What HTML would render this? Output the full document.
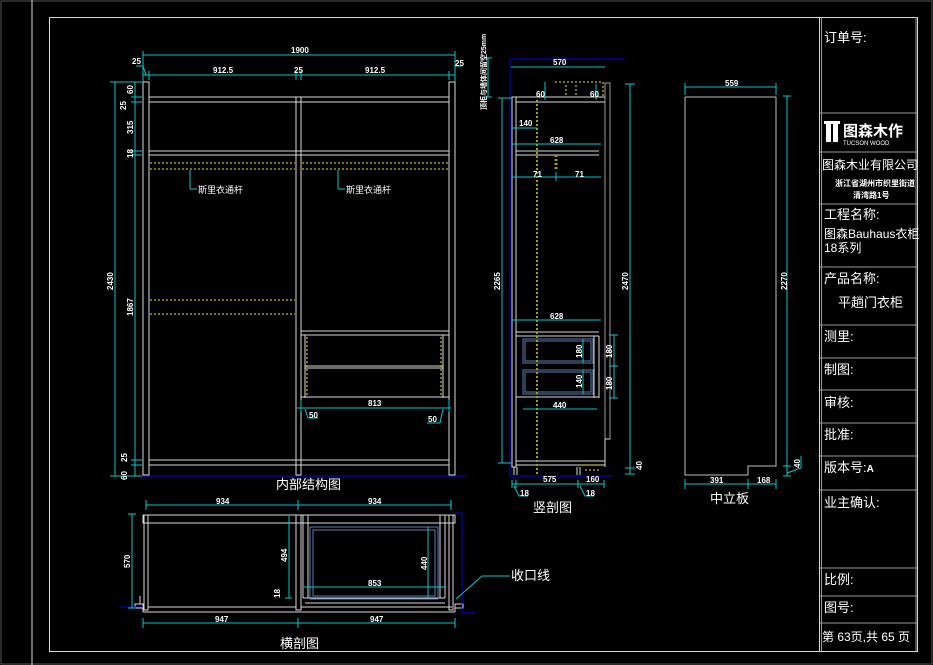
<!DOCTYPE html>
<html><head><meta charset="utf-8"><style>
html,body{margin:0;padding:0;background:#000;}
svg{display:block;}
.w{stroke:#d8d8d8;stroke-width:1;fill:none}
.g{stroke:#9a9a9a;stroke-width:1;fill:none}
.c{stroke:#00c8c8;stroke-width:1;fill:none}
.y{stroke:#a0a000;stroke-width:1.5;fill:none;stroke-dasharray:2,2}
.b{stroke:#0000ee;stroke-width:1;fill:none}
.s{stroke:#5a7db0;stroke-width:1;fill:none}
text{font-family:"Liberation Sans","Noto Sans CJK SC",sans-serif;fill:#fff}
.d{font-size:8px;font-weight:bold}
.t{font-size:13px}
</style></head><body>
<svg width="933" height="665" viewBox="0 0 933 665" xmlns="http://www.w3.org/2000/svg">
<!-- frames -->
<rect x="1" y="1" width="931" height="663" fill="none" stroke="#555" />
<line x1="32" y1="0" x2="32" y2="665" class="w"/>
<rect x="49.5" y="17.5" width="868" height="634" class="w"/>
<!-- title block -->
<line x1="819.5" y1="17" x2="819.5" y2="651" class="w"/>
<line x1="821.5" y1="17" x2="821.5" y2="651" class="g"/>
<line x1="916" y1="17" x2="916" y2="651" class="g"/>
<g class="g">
<line x1="820" y1="113" x2="917" y2="113"/><line x1="820" y1="152" x2="917" y2="152"/>
<line x1="820" y1="204" x2="917" y2="204"/><line x1="820" y1="267" x2="917" y2="267"/>
<line x1="820" y1="325" x2="917" y2="325"/><line x1="820" y1="358" x2="917" y2="358"/>
<line x1="820" y1="390" x2="917" y2="390"/><line x1="820" y1="423" x2="917" y2="423"/>
<line x1="820" y1="456" x2="917" y2="456"/><line x1="820" y1="490" x2="917" y2="490"/>
<line x1="820" y1="568" x2="917" y2="568"/><line x1="820" y1="596" x2="917" y2="596"/>
<line x1="820" y1="623" x2="917" y2="623"/>
</g>
<text x="824" y="42" class="t">订单号:</text>
<rect x="826" y="122" width="5" height="20" fill="#fff"/><rect x="833" y="122" width="5" height="20" fill="#fff"/><rect x="824" y="121" width="16" height="3" fill="#fff"/>
<text x="843" y="136" style="font-size:15px;font-weight:bold">图森木作</text>
<text x="843" y="145" style="font-size:6px">TUCSON WOOD</text>
<text x="822" y="169" style="font-size:12px">图森木业有限公司</text>
<text x="835" y="186" style="font-size:8px;font-weight:bold">浙江省湖州市织里街道</text>
<text x="853" y="198" style="font-size:8px;font-weight:bold">清湾路1号</text>
<text x="824" y="219" class="t">工程名称:</text>
<text x="824" y="238" style="font-size:12px">图森Bauhaus衣柜</text>
<text x="824" y="252" style="font-size:12px">18系列</text>
<text x="824" y="283" class="t">产品名称:</text>
<text x="838" y="307" class="t">平趟门衣柜</text>
<text x="824" y="341" class="t">测里:</text>
<text x="824" y="374" class="t">制图:</text>
<text x="824" y="407" class="t">审核:</text>
<text x="824" y="439" class="t">批准:</text>
<text x="824" y="472" class="t">版本号:<tspan style="font-size:10px;font-weight:bold">A</tspan></text>
<text x="824" y="507" class="t">业主确认:</text>
<text x="824" y="584" class="t">比例:</text>
<text x="824" y="612" class="t">图号:</text>
<text x="822" y="641" style="font-size:12px">第 63页,共 65 页</text>

<!-- FRONT ELEVATION -->
<g class="w">
<rect x="143" y="82" width="6" height="393"/>
<rect x="449" y="82" width="6" height="393"/>
<rect x="296" y="97" width="5" height="378"/>
<line x1="149" y1="97" x2="449" y2="97"/><line x1="149" y1="102" x2="449" y2="102"/>
<line x1="149" y1="151" x2="449" y2="151"/><line x1="149" y1="155" x2="449" y2="155"/>
<line x1="149" y1="460" x2="449" y2="460"/><line x1="149" y1="465" x2="449" y2="465"/>
<line x1="301" y1="331" x2="449" y2="331"/><line x1="301" y1="335" x2="449" y2="335"/>
<line x1="305" y1="335" x2="305" y2="398"/><line x1="443" y1="335" x2="443" y2="398"/>
<line x1="305" y1="366" x2="443" y2="366"/><line x1="305" y1="368" x2="443" y2="368"/>
<line x1="301" y1="397" x2="449" y2="397"/>
</g>
<g class="y">
<line x1="150" y1="163" x2="295" y2="163"/><line x1="150" y1="169" x2="295" y2="169"/>
<line x1="302" y1="163" x2="448" y2="163"/><line x1="302" y1="169" x2="448" y2="169"/>
<line x1="150" y1="300" x2="295" y2="300"/><line x1="150" y1="314" x2="295" y2="314"/>
<line x1="307" y1="337" x2="307" y2="396"/><line x1="441" y1="337" x2="441" y2="396"/>
</g>
<line x1="120" y1="476" x2="466" y2="476" class="b"/>
<g class="c">
<line x1="143" y1="55" x2="455" y2="55"/><line x1="143" y1="51" x2="143" y2="82"/><line x1="455" y1="51" x2="455" y2="82"/>
<line x1="143" y1="75" x2="455" y2="75"/><line x1="149" y1="71" x2="149" y2="80"/><line x1="296" y1="71" x2="296" y2="80"/><line x1="301" y1="71" x2="301" y2="80"/><line x1="449" y1="71" x2="449" y2="80"/>
<line x1="136" y1="66" x2="143" y2="66"/><line x1="143" y1="66" x2="146" y2="75"/>
<line x1="462" y1="66" x2="455" y2="66"/>
<line x1="115" y1="82" x2="115" y2="476"/><line x1="110" y1="82" x2="142" y2="82"/><line x1="110" y1="476" x2="142" y2="476"/>
<line x1="135" y1="82" x2="135" y2="476"/>
<line x1="131" y1="97" x2="142" y2="97"/><line x1="131" y1="102" x2="142" y2="102"/><line x1="131" y1="151" x2="142" y2="151"/><line x1="131" y1="155" x2="142" y2="155"/><line x1="131" y1="460" x2="142" y2="460"/><line x1="131" y1="465" x2="142" y2="465"/>
<line x1="190" y1="170" x2="190" y2="189"/><line x1="190" y1="189" x2="197" y2="189"/>
<line x1="338" y1="170" x2="338" y2="189"/><line x1="338" y1="189" x2="345" y2="189"/>
<line x1="297" y1="408" x2="451" y2="408"/><line x1="301" y1="400" x2="301" y2="412"/><line x1="449" y1="400" x2="449" y2="412"/>
<line x1="305" y1="409" x2="308" y2="418"/><line x1="308" y1="418" x2="318" y2="418"/>
<line x1="443" y1="409" x2="440" y2="423"/><line x1="440" y1="423" x2="427" y2="423"/>
</g>
<text x="291" y="53" class="d">1900</text>
<text x="213" y="73" class="d">912.5</text><text x="294" y="73" class="d">25</text><text x="365" y="73" class="d">912.5</text>
<text x="132" y="64" class="d">25</text><text x="455" y="66" class="d">25</text>
<text class="d" transform="translate(113,290) rotate(-90)">2430</text>
<text class="d" transform="translate(133,94) rotate(-90)">60</text>
<text class="d" transform="translate(126,110) rotate(-90)">25</text>
<text class="d" transform="translate(133,134) rotate(-90)">315</text>
<text class="d" transform="translate(133,158) rotate(-90)">18</text>
<text class="d" transform="translate(133,316) rotate(-90)">1867</text>
<text class="d" transform="translate(127,462) rotate(-90)">25</text>
<text class="d" transform="translate(127,480) rotate(-90)">60</text>
<text x="198" y="193" style="font-size:9px">斯里衣通杆</text>
<text x="346" y="193" style="font-size:9px">斯里衣通杆</text>
<text x="368" y="406" class="d">813</text><text x="309" y="418" class="d">50</text><text x="428" y="422" class="d">50</text>
<text x="276" y="489" class="t">内部结构图</text>

<!-- SIDE SECTION -->
<line x1="510" y1="59" x2="625" y2="59" class="b"/>
<line x1="510" y1="59" x2="510" y2="476" class="b"/>
<line x1="510" y1="476" x2="612" y2="476" class="b"/>
<g class="w">
<rect x="512" y="97" width="4" height="370"/>
<line x1="516" y1="97" x2="605" y2="97"/><line x1="516" y1="102" x2="605" y2="102"/>
<line x1="605" y1="97" x2="605" y2="467"/>
<rect x="605" y="83" width="5" height="356" class="g"/>
<line x1="605" y1="439" x2="610" y2="439" />
<line x1="516" y1="151" x2="599" y2="151"/><line x1="516" y1="155" x2="599" y2="155"/>
<line x1="516" y1="332" x2="599" y2="332"/><line x1="516" y1="336" x2="599" y2="336"/>
<line x1="594" y1="336" x2="594" y2="398"/><line x1="599" y1="336" x2="599" y2="398"/>
<line x1="516" y1="397" x2="599" y2="397"/>
<line x1="516" y1="461" x2="605" y2="461"/><line x1="516" y1="465" x2="605" y2="465"/>
<line x1="514" y1="467" x2="514" y2="475"/><line x1="517" y1="467" x2="517" y2="475"/>
<line x1="577" y1="467" x2="577" y2="475"/><line x1="580" y1="467" x2="580" y2="475"/>
</g>
<g class="s">
<rect x="523" y="339" width="70" height="24"/><rect x="525" y="341" width="66" height="20"/>
<rect x="523" y="370" width="70" height="24"/><rect x="525" y="372" width="66" height="20"/>
</g>
<g class="y">
<line x1="537" y1="100" x2="537" y2="475" style="stroke-width:2"/>
<line x1="556" y1="155" x2="556" y2="170" style="stroke-width:3"/>
<line x1="555" y1="82" x2="603" y2="82"/><line x1="603" y1="82" x2="603" y2="97"/>
<line x1="566" y1="85" x2="566" y2="97"/><line x1="576" y1="85" x2="576" y2="97"/>
<line x1="580" y1="465" x2="604" y2="465"/><line x1="585" y1="470" x2="600" y2="470"/>
</g>
<g class="c">
<line x1="511" y1="67" x2="605" y2="67"/>
<line x1="545" y1="82" x2="545" y2="100"/><line x1="596" y1="84" x2="596" y2="100"/>
<line x1="512" y1="128" x2="537" y2="128"/>
<line x1="512" y1="144" x2="601" y2="144"/>
<line x1="512" y1="177" x2="601" y2="177"/><line x1="556" y1="172" x2="556" y2="181"/>
<line x1="512" y1="320" x2="601" y2="320"/>
<line x1="523" y1="409" x2="597" y2="409"/>
<line x1="583" y1="339" x2="583" y2="363"/><line x1="583" y1="370" x2="583" y2="394"/>
<line x1="614" y1="335" x2="614" y2="398"/><line x1="609" y1="335" x2="618" y2="335"/><line x1="609" y1="366" x2="618" y2="366"/><line x1="609" y1="398" x2="618" y2="398"/>
<line x1="502" y1="98" x2="502" y2="463"/><line x1="498" y1="98" x2="512" y2="98"/><line x1="498" y1="463" x2="512" y2="463"/>
<line x1="630" y1="84" x2="630" y2="474"/><line x1="625" y1="84" x2="635" y2="84"/><line x1="625" y1="468" x2="635" y2="468"/><line x1="625" y1="474" x2="635" y2="474"/>
<line x1="488" y1="58" x2="488" y2="97"/><line x1="484" y1="58" x2="492" y2="58"/><line x1="484" y1="97" x2="492" y2="97"/>
<line x1="512" y1="484" x2="604" y2="484"/><line x1="512" y1="480" x2="512" y2="488"/><line x1="516" y1="480" x2="516" y2="488"/><line x1="578" y1="480" x2="578" y2="488"/><line x1="604" y1="480" x2="604" y2="488"/>
<line x1="514" y1="486" x2="519" y2="496"/><line x1="519" y1="496" x2="528" y2="496"/>
<line x1="580" y1="486" x2="585" y2="496"/><line x1="585" y1="496" x2="594" y2="496"/>
</g>
<text x="553" y="65" class="d">570</text>
<text x="536" y="97" class="d">60</text><text x="590" y="97" class="d">60</text>
<text x="519" y="126" class="d">140</text><text x="550" y="143" class="d">628</text>
<text x="533" y="177" class="d">71</text><text x="575" y="177" class="d">71</text>
<text x="550" y="319" class="d">628</text><text x="553" y="408" class="d">440</text>
<text x="543" y="482" class="d">575</text><text x="586" y="482" class="d">160</text>
<text x="520" y="496" class="d">18</text><text x="586" y="496" class="d">18</text>
<text class="d" transform="translate(500,290) rotate(-90)">2265</text>
<text class="d" transform="translate(628,290) rotate(-90)">2470</text>
<text class="d" transform="translate(582,358) rotate(-90)">180</text>
<text class="d" transform="translate(582,388) rotate(-90)">140</text>
<text class="d" transform="translate(612,358) rotate(-90)">180</text>
<text class="d" transform="translate(612,390) rotate(-90)">180</text>
<text class="d" transform="translate(642,470) rotate(-90)">40</text>
<text class="d" style="font-size:7px" transform="translate(486,110) rotate(-90)">顶柜与墙体间留空25mm</text>
<text x="533" y="512" class="t">竖剖图</text>

<!-- MIDDLE PANEL -->
<g class="w">
<polyline points="685,97 685,475 748,475 748,466 776,466 776,97 685,97" style="stroke:#bbb"/>
</g>
<g class="c">
<line x1="685" y1="87" x2="776" y2="87"/><line x1="685" y1="83" x2="685" y2="95"/><line x1="776" y1="83" x2="776" y2="95"/>
<line x1="787" y1="96" x2="787" y2="476"/><line x1="783" y1="96" x2="791" y2="96"/><line x1="783" y1="466" x2="791" y2="466"/><line x1="783" y1="476" x2="791" y2="476"/>
<line x1="787" y1="473" x2="801" y2="468"/><line x1="801" y1="468" x2="801" y2="456"/>
<line x1="685" y1="484" x2="776" y2="484"/><line x1="685" y1="479" x2="685" y2="489"/><line x1="748" y1="479" x2="748" y2="489"/><line x1="776" y1="479" x2="776" y2="489"/>
</g>
<text x="725" y="86" class="d">559</text>
<text x="710" y="483" class="d">391</text><text x="757" y="483" class="d">168</text>
<text class="d" transform="translate(787,290) rotate(-90)">2270</text>
<text class="d" transform="translate(800,468) rotate(-90)">40</text>
<text x="710" y="503" class="t">中立板</text>

<!-- PLAN SECTION -->
<g class="w">
<rect x="143" y="515" width="312" height="8" />
<rect x="144" y="515" width="4" height="95"/>
<line x1="148" y1="607" x2="296" y2="607"/>
<rect x="296" y="515" width="5" height="95"/>
<line x1="301" y1="607" x2="452" y2="607"/>
<rect x="449" y="515" width="4" height="95"/>
<line x1="143" y1="612" x2="455" y2="612"/>
<line x1="143" y1="607" x2="143" y2="612"/><line x1="455" y1="607" x2="455" y2="612"/>
<line x1="303" y1="515" x2="303" y2="598"/><line x1="308" y1="515" x2="308" y2="598"/>
<line x1="440" y1="515" x2="440" y2="598"/><line x1="445" y1="515" x2="445" y2="598"/>
<line x1="303" y1="598" x2="445" y2="598"/><line x1="305" y1="603" x2="445" y2="603"/>
<rect x="135" y="604" width="8" height="4"/><rect x="455" y="604" width="8" height="4"/>
<line x1="140" y1="596" x2="140" y2="604"/>
</g>
<g class="s">
<rect x="310" y="527" width="128" height="72"/><rect x="313" y="530" width="122" height="66"/>
</g>
<line x1="120" y1="607" x2="143" y2="607" class="b"/>
<line x1="455" y1="513" x2="462" y2="513" class="b"/><line x1="462" y1="513" x2="462" y2="613" class="b"/><line x1="462" y1="613" x2="475" y2="613" class="b"/>
<g class="c">
<line x1="146" y1="505" x2="451" y2="505"/><line x1="146" y1="500" x2="146" y2="510"/><line x1="298" y1="500" x2="298" y2="510"/><line x1="451" y1="500" x2="451" y2="510"/>
<line x1="132" y1="514" x2="132" y2="608"/><line x1="128" y1="514" x2="136" y2="514"/><line x1="128" y1="608" x2="136" y2="608"/>
<line x1="289" y1="516" x2="289" y2="598"/><line x1="285" y1="598" x2="292" y2="598"/>
<line x1="428" y1="527" x2="428" y2="598"/>
<line x1="304" y1="587" x2="446" y2="587"/>
<line x1="143" y1="623" x2="455" y2="623"/><line x1="143" y1="618" x2="143" y2="628"/><line x1="298" y1="618" x2="298" y2="628"/><line x1="455" y1="618" x2="455" y2="628"/>
<line x1="456" y1="599" x2="482" y2="576"/><line x1="482" y1="576" x2="510" y2="576"/>
</g>
<text x="216" y="504" class="d">934</text><text x="368" y="504" class="d">934</text>
<text x="215" y="622" class="d">947</text><text x="370" y="622" class="d">947</text>
<text x="368" y="586" class="d">853</text>
<text class="d" transform="translate(130,568) rotate(-90)">570</text>
<text class="d" transform="translate(287,562) rotate(-90)">494</text>
<text class="d" transform="translate(427,570) rotate(-90)">440</text>
<text class="d" transform="translate(280,598) rotate(-90)">18</text>
<text x="511" y="580" class="t">收口线</text>
<text x="280" y="648" class="t">横剖图</text>
</svg>
</body></html>
